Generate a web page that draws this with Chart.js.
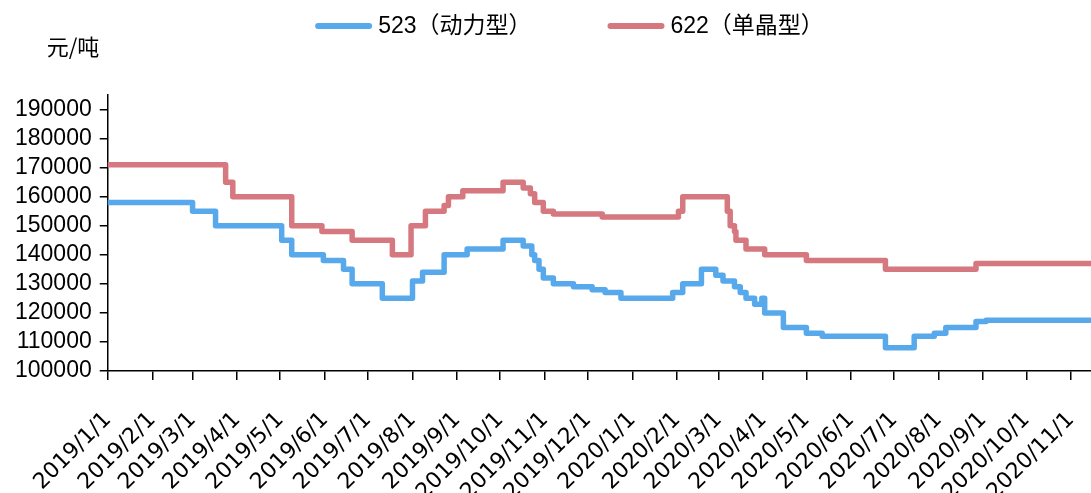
<!DOCTYPE html>
<html>
<head>
<meta charset="utf-8">
<script src="https://cdn.jsdelivr.net/npm/chart.js@4.4.1/dist/chart.umd.min.js"></script>
<style>
  html, body { margin: 0; padding: 0; background: #fff; }
  #wrap { width: 1091px; height: 493px; }
</style>
</head>
<body>
<div id="wrap"><canvas id="chart"></canvas></div>
<script>
// 三元正极材料价格走势（元/吨）

const monthLabels = [
  '2019/1/1', '2019/2/1', '2019/3/1', '2019/4/1', '2019/5/1', '2019/6/1',
  '2019/7/1', '2019/8/1', '2019/9/1', '2019/10/1', '2019/11/1', '2019/12/1',
  '2020/1/1', '2020/2/1', '2020/3/1', '2020/4/1', '2020/5/1', '2020/6/1',
  '2020/7/1', '2020/8/1', '2020/9/1', '2020/10/1', '2020/11/1'
];
const yTicks = [100000, 110000, 120000, 130000, 140000, 150000, 160000, 170000, 180000, 190000];

// 523（动力型）：调价日期与价格
const dates523 = [
  '2019/1/1', '2019/3/1', '2019/3/17', '2019/5/2', '2019/5/9', '2019/5/31',
  '2019/6/14', '2019/6/20', '2019/7/11', '2019/8/1', '2019/8/8', '2019/8/23',
  '2019/9/8', '2019/10/3', '2019/10/17', '2019/10/23', '2019/10/25', '2019/10/28',
  '2019/10/31', '2019/11/7', '2019/11/21', '2019/12/4', '2019/12/13', '2019/12/24',
  '2020/1/29', '2020/2/5', '2020/2/18', '2020/2/28', '2020/3/4', '2020/3/12',
  '2020/3/16', '2020/3/20', '2020/3/26', '2020/3/31', '2020/4/2', '2020/4/15',
  '2020/5/1', '2020/5/12', '2020/6/25', '2020/7/15', '2020/7/29', '2020/8/6',
  '2020/8/27', '2020/9/3', '2020/11/15'
];
const prices523 = [
  158000, 155000, 150000, 145000, 140000, 138000,
  135000, 130000, 125000, 131000, 134000, 140000,
  142000, 145000, 143000, 140000, 138000, 135000,
  132000, 130000, 129000, 128000, 127000, 125000,
  127000, 130000, 135000, 133000, 131000, 129000,
  127000, 125000, 123000, 125000, 120000, 115000,
  113000, 112000, 108000, 112000, 113000, 115000,
  117000, 117500, 117500
];

// 622（单晶型）：调价日期与价格
const dates622 = [
  '2019/1/1', '2019/3/24', '2019/3/29', '2019/5/9', '2019/5/30', '2019/6/20',
  '2019/7/18', '2019/7/31', '2019/8/10', '2019/8/23', '2019/8/26', '2019/9/5',
  '2019/10/3', '2019/10/17', '2019/10/22', '2019/10/25', '2019/10/31', '2019/11/7',
  '2019/12/11', '2020/2/2', '2020/2/5', '2020/3/7', '2020/3/9', '2020/3/12',
  '2020/3/13', '2020/3/20', '2020/4/2', '2020/5/1', '2020/6/25', '2020/8/27',
  '2020/11/15'
];
const prices622 = [
  171000, 165000, 160000, 150000, 148000, 145000,
  140000, 150000, 155000, 157000, 160000, 162000,
  165000, 163000, 161000, 158000, 155000, 154000,
  153000, 155000, 160000, 155000, 150000, 148000,
  145000, 142000, 140000, 138000, 135000, 137000,
  137000
];

const firstDay = '2019/1/1';
const lastDay = '2020/11/15';

const BLUE = '#57A9EC';
const RED = '#D5787F';
const LEGEND_FONT = "23px 'Liberation Sans', 'Noto Sans CJK SC', sans-serif";

// 日期字符串 -> 距 2019/1/1 的天数
function toDay(s) {
  const [y, m, d] = s.split('/').map(Number);
  return Math.round((Date.UTC(y, m - 1, d) - Date.UTC(2019, 0, 1)) / 86400000);
}

function toPoints(dates, prices) {
  return dates.map((d, i) => ({ x: toDay(d), y: prices[i] }));
}

const monthByDay = {};
monthLabels.forEach((l) => { monthByDay[toDay(l)] = l; });

// 顶部图例 + 单位
const headerPlugin = {
  id: 'header',
  afterDraw(chart) {
    const ctx = chart.ctx;
    const area = chart.chartArea;
    ctx.save();
    ctx.font = LEGEND_FONT;
    ctx.textBaseline = 'middle';
    ctx.fillStyle = '#000';

    const lineLen = 57;
    const gap = 76;
    const items = chart.data.datasets.map((ds) => ({
      text: ds.label,
      color: ds.borderColor,
      width: lineLen + 6 + ctx.measureText(ds.label).width,
    }));
    const total = items.reduce((s, it) => s + it.width, 0) + gap * (items.length - 1);
    let x = chart.width / 2 + 24 - total / 2;
    const y = 26;
    items.forEach((it) => {
      ctx.strokeStyle = it.color;
      ctx.lineWidth = 6;
      ctx.lineCap = 'round';
      ctx.beginPath();
      ctx.moveTo(x + 3, y);
      ctx.lineTo(x + lineLen - 3, y);
      ctx.stroke();
      ctx.fillText(it.text, x + lineLen + 6, y + 1);
      x += it.width + gap;
    });

    ctx.font = "22px 'Noto Sans CJK SC', sans-serif";
    ctx.fillText('元/吨', area.left - 61, area.top - 48);
    ctx.restore();
  },
};

new Chart(document.getElementById('chart'), {
  type: 'line',
  data: {
    datasets: [
      {
        label: '523（动力型）',
        data: toPoints(dates523, prices523),
        borderColor: BLUE,
        backgroundColor: BLUE,
      },
      {
        label: '622（单晶型）',
        data: toPoints(dates622, prices622),
        borderColor: RED,
        backgroundColor: RED,
      },
    ],
  },
  options: {
    responsive: true,
    maintainAspectRatio: false,
    animation: false,
    layout: { padding: { top: 95, left: 7, right: 0, bottom: 0 } },
    elements: {
      point: { radius: 0 },
      line: { borderWidth: 5.5, stepped: true, borderJoinStyle: 'round', borderCapStyle: 'round' },
    },
    plugins: {
      legend: { display: false },
      tooltip: { enabled: false },
    },
    scales: {
      x: {
        type: 'linear',
        min: toDay(firstDay),
        max: toDay(lastDay),
        afterBuildTicks: (scale) => {
          scale.ticks = monthLabels.map((l) => ({ value: toDay(l) }));
        },
        // 斜排标签允许超出画布底部，横轴区域高度固定
        afterFit: (scale) => {
          scale.paddingRight = 0;
          scale.height = 122;
        },
        ticks: {
          autoSkip: false,
          minRotation: 45,
          maxRotation: 45,
          padding: 27,
          color: '#000',
          font: { family: "'DejaVu Sans', sans-serif", size: 22 },
          callback: (v) => monthByDay[v] || '',
        },
        grid: { drawOnChartArea: false, tickLength: 9, color: '#000', lineWidth: 1.5 },
        border: { color: '#000', width: 1.5 },
      },
      y: {
        min: 100000,
        max: 195000,
        afterBuildTicks: (scale) => {
          scale.ticks = yTicks.map((v) => ({ value: v }));
        },
        ticks: {
          autoSkip: false,
          padding: 8,
          color: '#000',
          font: { family: "'Liberation Sans', Arial, sans-serif", size: 23 },
          callback: (v) => String(v),
        },
        grid: { drawOnChartArea: false, tickLength: 8, color: '#000', lineWidth: 1.5 },
        border: { color: '#000', width: 1.5 },
      },
    },
  },
  plugins: [headerPlugin],
});
</script>
</body>
</html>
